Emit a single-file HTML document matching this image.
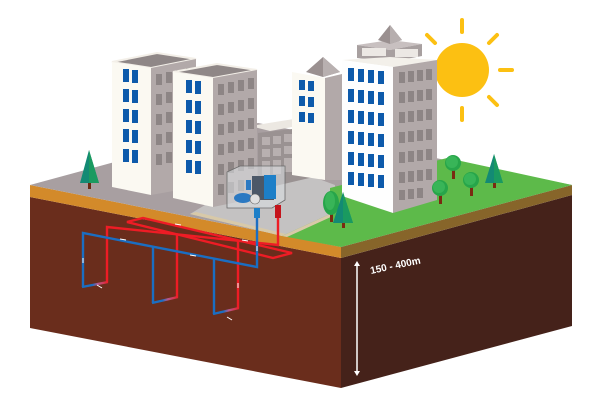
<!DOCTYPE html>
<html><head><meta charset="utf-8"><style>
html,body{margin:0;padding:0;background:#fff;width:600px;height:405px;overflow:hidden}
svg{display:block}
</style></head><body>
<svg width="600" height="405" viewBox="0 0 600 405" xmlns="http://www.w3.org/2000/svg">
<!-- ground block -->
<polygon points="30,197 341,258 341,388 30,328" fill="#6a2d1c"/>
<polygon points="341,258 572,195 572,326 341,388" fill="#45221a"/>
<polygon points="30,185 341,247 341,258 30,197" fill="#d38a2a"/>
<polygon points="341,247 572,185 572,195 341,258" fill="#87652a"/>
<polygon points="30,185 258,123 572,185 341,247" fill="#a89fa1"/>
<!-- road -->
<polygon points="190,214 282,236 335,214 335,185 300,172 230,190" fill="#c4c2c2"/>
<polygon points="190,214 282,236 286,234 196,212" fill="#d8c9a8"/>
<!-- green -->
<polygon points="282,236 341,247 572,185 447,158 330,188 330,214" fill="#5dba4a"/>
<polygon points="282,236 330,214 333,216 287,237" fill="#d8c9a8"/>
<!-- left tree -->
<rect x="88" y="180" width="3" height="9" fill="#6b2a12"/>
<polygon points="89,150 80,183 99,183" fill="#138a74"/>
<polygon points="89,150 89,183 99,183" fill="#1a9a60"/>
<!-- Building A -->
<polygon points="112,62 151,68 196,59 157,53" fill="#8f8787" stroke="#f3efe8" stroke-width="2"/>
<polygon points="112,62 151,68 151,195 112,187" fill="#fbf9f2"/>
<polygon points="151,68 196,59 196,187 151,195" fill="#b2a9a9"/>
<g fill="#0d5aab">
<rect x="123" y="69" width="6" height="13"/><rect x="132" y="70" width="6" height="13"/>
<rect x="123" y="89" width="6" height="13"/><rect x="132" y="90" width="6" height="13"/>
<rect x="123" y="109" width="6" height="13"/><rect x="132" y="110" width="6" height="13"/>
<rect x="123" y="129" width="6" height="13"/><rect x="132" y="130" width="6" height="13"/>
<rect x="123" y="149" width="6" height="13"/><rect x="132" y="150" width="6" height="13"/>
</g>
<g fill="#8d8585">
<rect x="156" y="74" width="6" height="11"/><rect x="166" y="72" width="6" height="11"/><rect x="176" y="70" width="6" height="11"/><rect x="186" y="68" width="6" height="11"/>
<rect x="156" y="94" width="6" height="11"/><rect x="166" y="92" width="6" height="11"/><rect x="176" y="90" width="6" height="11"/><rect x="186" y="88" width="6" height="11"/>
<rect x="156" y="114" width="6" height="11"/><rect x="166" y="112" width="6" height="11"/><rect x="176" y="110" width="6" height="11"/><rect x="186" y="108" width="6" height="11"/>
<rect x="156" y="134" width="6" height="11"/><rect x="166" y="132" width="6" height="11"/><rect x="176" y="130" width="6" height="11"/><rect x="186" y="128" width="6" height="11"/>
<rect x="156" y="154" width="6" height="11"/><rect x="166" y="152" width="6" height="11"/><rect x="176" y="150" width="6" height="11"/><rect x="186" y="148" width="6" height="11"/>
</g>
<!-- low building -->
<polygon points="250,126 300,118 320,122 270,131" fill="#ece8e2"/>
<polygon points="258,133 318,126 318,176 258,190" fill="#9a9292"/>
<g fill="#b8b0b0">
<rect x="262" y="137" width="8" height="8"/><rect x="273" y="136" width="8" height="8"/><rect x="284" y="134" width="8" height="8"/><rect x="295" y="133" width="8" height="8"/><rect x="306" y="131" width="8" height="8"/>
<rect x="262" y="149" width="8" height="8"/><rect x="273" y="148" width="8" height="8"/><rect x="284" y="146" width="8" height="8"/><rect x="295" y="145" width="8" height="8"/><rect x="306" y="143" width="8" height="8"/>
<rect x="262" y="161" width="8" height="14"/><rect x="273" y="160" width="8" height="14"/><rect x="284" y="158" width="8" height="14"/><rect x="295" y="157" width="8" height="14"/>
</g>
<!-- Building C -->
<polygon points="323,57 306,72 323,77 340,72" fill="#9a9090"/>
<polygon points="323,57 323,77 340,72" fill="#b8b0b0"/>
<polygon points="292,72 325,78 325,180 292,175" fill="#fbf9f2"/>
<polygon points="325,78 342,74 342,180 325,180" fill="#b2a9a9"/>
<g fill="#0d5aab">
<rect x="299" y="80" width="6" height="10"/><rect x="308" y="81" width="6" height="10"/>
<rect x="299" y="96" width="6" height="10"/><rect x="308" y="97" width="6" height="10"/>
<rect x="299" y="112" width="6" height="10"/><rect x="308" y="113" width="6" height="10"/>
</g>
<!-- Building B -->
<polygon points="173,72 213,78 257,70 217,64" fill="#8f8787" stroke="#f3efe8" stroke-width="2"/>
<polygon points="173,72 213,78 213,207 173,198" fill="#fbf9f2"/>
<polygon points="213,78 257,70 257,198 213,207" fill="#b2a9a9"/>
<g fill="#0d5aab">
<rect x="186" y="80" width="6" height="13"/><rect x="195" y="81" width="6" height="13"/>
<rect x="186" y="100" width="6" height="13"/><rect x="195" y="101" width="6" height="13"/>
<rect x="186" y="120" width="6" height="13"/><rect x="195" y="121" width="6" height="13"/>
<rect x="186" y="140" width="6" height="13"/><rect x="195" y="141" width="6" height="13"/>
<rect x="186" y="160" width="6" height="13"/><rect x="195" y="161" width="6" height="13"/>
</g>
<g fill="#8d8585">
<rect x="218" y="84" width="6" height="11"/><rect x="228" y="82" width="6" height="11"/><rect x="238" y="80" width="6" height="11"/><rect x="248" y="78" width="6" height="11"/>
<rect x="218" y="104" width="6" height="11"/><rect x="228" y="102" width="6" height="11"/><rect x="238" y="100" width="6" height="11"/><rect x="248" y="98" width="6" height="11"/>
<rect x="218" y="124" width="6" height="11"/><rect x="228" y="122" width="6" height="11"/><rect x="238" y="120" width="6" height="11"/><rect x="248" y="118" width="6" height="11"/>
<rect x="218" y="144" width="6" height="11"/><rect x="228" y="142" width="6" height="11"/><rect x="238" y="140" width="6" height="11"/><rect x="248" y="138" width="6" height="11"/>
<rect x="218" y="164" width="6" height="11"/><rect x="228" y="162" width="6" height="11"/><rect x="238" y="160" width="6" height="11"/><rect x="248" y="158" width="6" height="11"/>
<rect x="218" y="184" width="6" height="11"/><rect x="228" y="182" width="6" height="11"/><rect x="238" y="180" width="6" height="11"/>
</g>
<!-- sun -->
<g stroke="#fcc012" stroke-width="4" stroke-linecap="round">
<line x1="462" y1="32" x2="462" y2="20"/><line x1="462" y1="108" x2="462" y2="120"/>
<line x1="500" y1="70" x2="512" y2="70"/><line x1="489" y1="43" x2="497" y2="35"/>
<line x1="489" y1="97" x2="497" y2="105"/><line x1="435" y1="43" x2="427" y2="35"/>
</g>
<circle cx="462" cy="70" r="27" fill="#fcc012"/>
<!-- Building D -->
<polygon points="357,45 390,50 422,44 390,40" fill="#c8c0c0"/>
<polygon points="357,45 390,50 390,62 357,58" fill="#a8a0a0"/>
<rect x="362" y="48" width="24" height="8" fill="#ece8e4"/>
<polygon points="390,50 422,44 422,56 390,62" fill="#a8a0a0"/>
<rect x="395" y="49" width="23" height="8" fill="#ece8e4"/>
<polygon points="390,25 378,40 390,44 402,40" fill="#9a9090"/>
<polygon points="390,25 390,44 402,40" fill="#b6aeae"/>
<polygon points="342,60 390,57 437,60 393,67" fill="#f3f0ea"/>
<polygon points="342,60 393,67 393,213 342,196" fill="#fefefe"/>
<polygon points="393,67 437,60 437,200 393,213" fill="#b2a9a9"/>
<g fill="#0d5aab">
<rect x="348" y="68" width="6" height="13"/><rect x="358" y="69" width="6" height="13"/><rect x="368" y="70" width="6" height="13"/><rect x="378" y="71" width="6" height="13"/>
<rect x="348" y="89" width="6" height="13"/><rect x="358" y="90" width="6" height="13"/><rect x="368" y="91" width="6" height="13"/><rect x="378" y="92" width="6" height="13"/>
<rect x="348" y="110" width="6" height="13"/><rect x="358" y="111" width="6" height="13"/><rect x="368" y="112" width="6" height="13"/><rect x="378" y="113" width="6" height="13"/>
<rect x="348" y="131" width="6" height="13"/><rect x="358" y="132" width="6" height="13"/><rect x="368" y="133" width="6" height="13"/><rect x="378" y="134" width="6" height="13"/>
<rect x="348" y="152" width="6" height="13"/><rect x="358" y="153" width="6" height="13"/><rect x="368" y="154" width="6" height="13"/><rect x="378" y="155" width="6" height="13"/>
<rect x="348" y="172" width="6" height="13"/><rect x="358" y="173" width="6" height="13"/><rect x="368" y="174" width="6" height="13"/><rect x="378" y="175" width="6" height="13"/>
</g>
<g fill="#8d8585">
<rect x="399" y="72" width="6" height="11"/><rect x="408" y="71" width="6" height="11"/><rect x="417" y="70" width="6" height="11"/><rect x="426" y="69" width="6" height="11"/>
<rect x="399" y="92" width="6" height="11"/><rect x="408" y="91" width="6" height="11"/><rect x="417" y="90" width="6" height="11"/><rect x="426" y="89" width="6" height="11"/>
<rect x="399" y="112" width="6" height="11"/><rect x="408" y="111" width="6" height="11"/><rect x="417" y="110" width="6" height="11"/><rect x="426" y="109" width="6" height="11"/>
<rect x="399" y="132" width="6" height="11"/><rect x="408" y="131" width="6" height="11"/><rect x="417" y="130" width="6" height="11"/><rect x="426" y="129" width="6" height="11"/>
<rect x="399" y="152" width="6" height="11"/><rect x="408" y="151" width="6" height="11"/><rect x="417" y="150" width="6" height="11"/><rect x="426" y="149" width="6" height="11"/>
<rect x="399" y="172" width="6" height="11"/><rect x="408" y="171" width="6" height="11"/><rect x="417" y="170" width="6" height="11"/><rect x="426" y="169" width="6" height="11"/>
<rect x="399" y="190" width="6" height="10"/><rect x="408" y="189" width="6" height="10"/><rect x="417" y="188" width="6" height="10"/>
</g>
<!-- trees right -->
<g>
<rect x="452" y="165" width="3" height="14" fill="#7a2a12"/><circle cx="453" cy="163" r="8" fill="#27a54a"/><circle cx="452" cy="162" r="6" fill="#38b558"/>
<rect x="470" y="182" width="3" height="14" fill="#7a2a12"/><circle cx="471" cy="180" r="8" fill="#27a54a"/><circle cx="470" cy="179" r="6" fill="#38b558"/>
<rect x="439" y="190" width="3" height="14" fill="#7a2a12"/><circle cx="440" cy="188" r="8" fill="#27a54a"/><circle cx="439" cy="187" r="6" fill="#38b558"/>
<rect x="493" y="180" width="3" height="8" fill="#7a2a12"/><polygon points="494,154 485,183 503,183" fill="#138a74"/><polygon points="494,154 494,183 503,183" fill="#1a9a60"/>
<rect x="330" y="208" width="3" height="14" fill="#7a2a12"/><ellipse cx="331" cy="203" rx="8" ry="12" fill="#27a54a"/><ellipse cx="330" cy="201" rx="5" ry="9" fill="#38b558"/>
<rect x="342" y="220" width="3" height="8" fill="#7a2a12"/><polygon points="343,192 333,223 353,223" fill="#138a74"/><polygon points="343,192 343,223 353,223" fill="#1a9a60"/>
</g>
<!-- heat pump unit -->
<polygon points="227,172 240,166 285,166 285,200 272,208 227,208" fill="#d8dcdf" fill-opacity="0.6" stroke="#6a6a6a" stroke-width="0.8"/>
<rect x="252" y="176" width="22" height="24" fill="#4c5868"/>
<rect x="264" y="175" width="12" height="24" fill="#1d7fc8"/>
<ellipse cx="243" cy="198" rx="9" ry="5" fill="#2b79c2"/>
<circle cx="255" cy="199" r="5" fill="#e0e0e0" stroke="#666" stroke-width="0.6"/>
<rect x="246" y="180" width="5" height="10" fill="#2b79c2"/>
<!-- pipes -->
<g fill="none" stroke-width="2.4" stroke-linejoin="miter">
<polygon points="127,222 143,218 292,253 273,258" stroke="#ee1c25"/>
<polyline points="107,282 107,227 278,245 278,205" stroke="#ee1c25"/>
<line x1="177" y1="235" x2="177" y2="297" stroke="#ee1c25"/>
<line x1="238" y1="241" x2="238" y2="308" stroke="#ee1c25"/>
<polyline points="83,287 83,233 257,267 257,212" stroke="#1b6ec2"/>
<line x1="153" y1="247" x2="153" y2="303" stroke="#1b6ec2"/>
<line x1="214" y1="259" x2="214" y2="314" stroke="#1b6ec2"/>
</g>
<defs><linearGradient id="g" x1="0" x2="1"><stop offset="0.4" stop-color="#1b6ec2"/><stop offset="0.6" stop-color="#b05a90"/><stop offset="1" stop-color="#ee1c25"/></linearGradient></defs>
<g stroke="url(#g)" stroke-width="2.4">
<line x1="82" y1="287" x2="108" y2="282"/>
<line x1="152" y1="303" x2="178" y2="297"/>
<line x1="213" y1="314" x2="239" y2="308"/>
</g>
<rect x="275" y="205" width="6" height="13" fill="#c4141c"/>
<rect x="254" y="208" width="6" height="10" fill="#1d7fc8"/>
<!-- tiny arrows -->
<g stroke="#fff" stroke-width="1">
<line x1="120" y1="239" x2="126" y2="240"/><line x1="190" y1="255" x2="196" y2="256"/>
<line x1="175" y1="224" x2="181" y2="225"/><line x1="242" y1="240" x2="248" y2="241"/>
<line x1="83" y1="258" x2="83" y2="263"/><line x1="238" y1="283" x2="238" y2="288"/>
<line x1="257" y1="246" x2="257" y2="251"/>
<line x1="97" y1="285" x2="102" y2="288"/><line x1="227" y1="317" x2="232" y2="320"/>
</g>
<!-- depth arrow -->
<line x1="357" y1="264" x2="357" y2="373" stroke="#fff" stroke-width="1.5"/>
<polygon points="357,261 354,266 360,266" fill="#fff"/>
<polygon points="357,376 354,371 360,371" fill="#fff"/>
<text x="371" y="274" transform="rotate(-12 371 274)" font-family="Liberation Sans, sans-serif" font-size="10" font-weight="bold" fill="#fff">150 - 400m</text>
</svg>
</body></html>
